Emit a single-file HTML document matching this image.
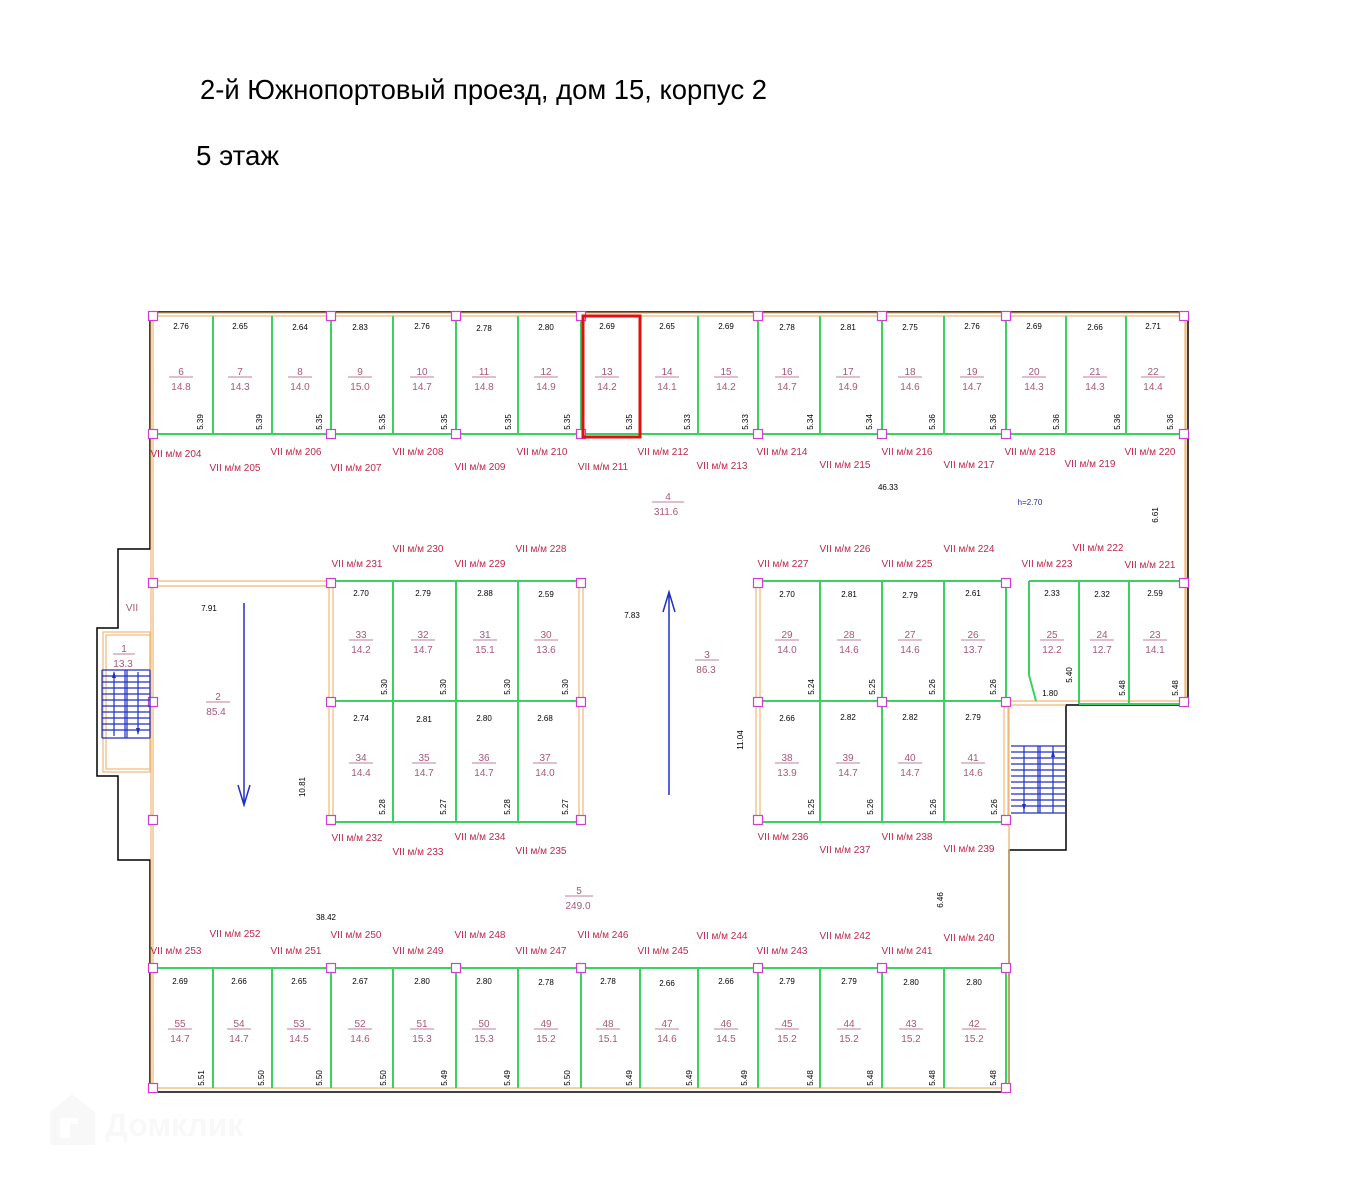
<!DOCTYPE html>
<html><head><meta charset="utf-8"><style>
html,body{margin:0;padding:0;background:#fff;}
svg{display:block}
text{font-family:"Liberation Sans",sans-serif}
.d{font-size:8px;fill:#000;text-anchor:middle}
.n{font-size:10px;fill:#a85878;text-anchor:middle}
.l{font-size:10px;fill:#c02848;text-anchor:middle}
.u{stroke:#a85878;stroke-width:0.8}
.g{stroke:#3cd060;stroke-width:2;fill:none}
.o{stroke:#f0b878;stroke-width:1.2;fill:none}
.k{stroke:#000;stroke-width:1.5;fill:none}
.p{fill:#fff;stroke:#d040d0;stroke-width:1.2}
.b{stroke:#2030c0;stroke-width:1.2;fill:none}
</style></head><body>
<svg width="1367" height="1179" viewBox="0 0 1367 1179" xmlns="http://www.w3.org/2000/svg">
<defs>
<g id="sq"><rect x="-4.5" y="-4.5" width="9" height="9" class="p"/></g>
</defs>
<text x="200" y="99" textLength="567" lengthAdjust="spacingAndGlyphs" style="font-size:28px;fill:#000">2-й Южнопортовый проезд, дом 15, корпус 2</text>
<text x="196" y="165" textLength="83" lengthAdjust="spacingAndGlyphs" style="font-size:28px;fill:#000">5 этаж</text>

<!-- watermark -->
<g opacity="0.05" fill="#888">
<path d="M50 1112 L72 1094 L95 1112 L95 1145 L50 1145 Z M60 1118 L60 1138 L70 1138 L70 1124 L78 1124 L78 1118 Z" fill-rule="evenodd"/>
<text x="105" y="1136" style="font-size:32px;font-weight:bold;fill:#888">Домклик</text>
</g>

<!-- black outline -->
<path class="k" d="M150 312 H1188 V705 H1066 V850 H1009 V1092 H150 V860 H118 V776 H97 V628 H118 V549 H150 Z"/>
<!-- orange inner walls -->
<path class="o" d="M153 316 H1185 V701 M153 316 V1088 H1006 M1009 826 V1090"/>
<path class="o" d="M151 313 H1186 M151 313 V1090 M1186 313 V703"/>
<!-- left stair box -->
<rect x="103" y="632" width="47" height="140" class="o"/>
<rect x="106" y="635" width="44" height="134" class="o"/>
<!-- corridor walls -->
<path class="o" d="M153 581 H331 M153 586 H331"/>
<path class="o" d="M329 583 V822 M333 583 V822 M579 583 V822 M583 583 V822"/>
<path class="o" d="M756 583 V822 M760 583 V822 M1004 703 V822 M1008 703 V826 M1006 701 H1188 M1006 705 H1066"/>
<path class="o" d="M1009 705 V850"/>

<!-- top row stalls green -->
<path class="g" d="M153 434 H1186 M213 316V434 M272 316V434 M331 316V434 M393 316V434 M456 316V434 M518 316V434 M581 316V434 M640 316V434 M698 316V434 M758 316V434 M820 316V434 M882 316V434 M944 316V434 M1006 316V434 M1066 316V434 M1126 316V434"/>
<!-- bottom row -->
<path class="g" d="M153 968 H1006 M213 968V1088 M272 968V1088 M331 968V1088 M393 968V1088 M456 968V1088 M518 968V1088 M581 968V1088 M640 968V1088 M698 968V1088 M758 968V1088 M820 968V1088 M882 968V1088 M944 968V1088 M1006 968V1088"/>
<!-- left block -->
<path class="g" d="M331 581 H581 M331 701 H581 M331 822 H581 M393 581V822 M456 581V822 M518 581V822"/>
<!-- right block -->
<path class="g" d="M758 581 H1006 M758 701 H1006 M758 822 H1006 M820 581V822 M882 581V822 M944 581V822 M1006 581V701"/>
<!-- small block -->
<path class="g" d="M1029 581 H1186 M1029 581 V675 L1036 701 M1079 581 V704 M1129 581 V704 M1079 704 H1186"/>

<!-- pink squares -->
<g>
<use href="#sq" x="153" y="316"/><use href="#sq" x="331" y="316"/><use href="#sq" x="456" y="316"/><use href="#sq" x="581" y="316"/><use href="#sq" x="758" y="316"/><use href="#sq" x="882" y="316"/><use href="#sq" x="1006" y="316"/><use href="#sq" x="1184" y="316"/>
<use href="#sq" x="153" y="434"/><use href="#sq" x="331" y="434"/><use href="#sq" x="456" y="434"/><use href="#sq" x="581" y="434"/><use href="#sq" x="758" y="434"/><use href="#sq" x="882" y="434"/><use href="#sq" x="1006" y="434"/><use href="#sq" x="1184" y="434"/>
<use href="#sq" x="153" y="583"/><use href="#sq" x="331" y="583"/><use href="#sq" x="581" y="583"/><use href="#sq" x="758" y="583"/><use href="#sq" x="1006" y="583"/><use href="#sq" x="1184" y="583"/>
<use href="#sq" x="153" y="702"/><use href="#sq" x="331" y="702"/><use href="#sq" x="581" y="702"/><use href="#sq" x="758" y="702"/><use href="#sq" x="882" y="702"/><use href="#sq" x="1006" y="702"/><use href="#sq" x="1184" y="702"/>
<use href="#sq" x="153" y="820"/><use href="#sq" x="331" y="820"/><use href="#sq" x="581" y="820"/><use href="#sq" x="758" y="820"/><use href="#sq" x="1006" y="820"/>
<use href="#sq" x="153" y="968"/><use href="#sq" x="331" y="968"/><use href="#sq" x="456" y="968"/><use href="#sq" x="581" y="968"/><use href="#sq" x="758" y="968"/><use href="#sq" x="882" y="968"/><use href="#sq" x="1006" y="968"/>
<use href="#sq" x="153" y="1088"/><use href="#sq" x="1006" y="1088"/>
</g>

<!-- red highlight -->
<rect x="583" y="316" width="57" height="121" fill="none" stroke="#e01010" stroke-width="3"/>

<!-- stairs -->
<g class="b">
<path d="M102 670 H150 M102 676 H150 M102 682 H150 M102 688 H150 M102 694 H150 M102 700 H150 M102 706 H150 M102 712 H150 M102 718 H150 M102 724 H150 M102 730 H150 M102 738 H150 M102 670 V738 M125 670 V738 M127 670 V738 M150 670 V738 M114 736 V672 M138 672 V734"/>
<path d="M1011 746 H1066 M1011 752 H1066 M1011 758 H1066 M1011 764 H1066 M1011 770 H1066 M1011 776 H1066 M1011 782 H1066 M1011 788 H1066 M1011 794 H1066 M1011 800 H1066 M1011 806 H1066 M1011 813 H1066 M1024 746 V813 M1038 746 V813 M1040 746 V813 M1053 746 V813 M1024 812 V760 M1053 750 V800"/>
<path d="M244 603 V805 M238 785 L244 805 L250 785" stroke-width="1.5"/>
<path d="M669 795 V592 M663 612 L669 592 L675 612" stroke-width="1.5"/>
</g>
<path d="M112 678 L114 671 L116 678 Z M136 728 L138 735 L140 728 Z M1022 804 L1024 811 L1026 804 Z M1051 757 L1053 750 L1055 757 Z" fill="#2030c0"/>

<!-- stall texts: top row -->
<g transform="translate(181,316)"><text class="d" y="13">2.76</text><text class="n" y="59">6</text><line class="u" x1="-12" x2="12" y1="61" y2="61"/><text class="n" y="74">14.8</text><text class="d" transform="translate(22,106) rotate(-90)">5.39</text></g>
<g transform="translate(240,316)"><text class="d" y="13">2.65</text><text class="n" y="59">7</text><line class="u" x1="-12" x2="12" y1="61" y2="61"/><text class="n" y="74">14.3</text><text class="d" transform="translate(22,106) rotate(-90)">5.39</text></g>
<g transform="translate(300,316)"><text class="d" y="14">2.64</text><text class="n" y="59">8</text><line class="u" x1="-12" x2="12" y1="61" y2="61"/><text class="n" y="74">14.0</text><text class="d" transform="translate(22,106) rotate(-90)">5.35</text></g>
<g transform="translate(360,316)"><text class="d" y="14">2.83</text><text class="n" y="59">9</text><line class="u" x1="-12" x2="12" y1="61" y2="61"/><text class="n" y="74">15.0</text><text class="d" transform="translate(25,106) rotate(-90)">5.35</text></g>
<g transform="translate(422,316)"><text class="d" y="13">2.76</text><text class="n" y="59">10</text><line class="u" x1="-12" x2="12" y1="61" y2="61"/><text class="n" y="74">14.7</text><text class="d" transform="translate(25,106) rotate(-90)">5.35</text></g>
<g transform="translate(484,316)"><text class="d" y="15">2.78</text><text class="n" y="59">11</text><line class="u" x1="-12" x2="12" y1="61" y2="61"/><text class="n" y="74">14.8</text><text class="d" transform="translate(27,106) rotate(-90)">5.35</text></g>
<g transform="translate(546,316)"><text class="d" y="14">2.80</text><text class="n" y="59">12</text><line class="u" x1="-12" x2="12" y1="61" y2="61"/><text class="n" y="74">14.9</text><text class="d" transform="translate(24,106) rotate(-90)">5.35</text></g>
<g transform="translate(607,316)"><text class="d" y="13">2.69</text><text class="n" y="59">13</text><line class="u" x1="-12" x2="12" y1="61" y2="61"/><text class="n" y="74">14.2</text><text class="d" transform="translate(25,106) rotate(-90)">5.35</text></g>
<g transform="translate(667,316)"><text class="d" y="13">2.65</text><text class="n" y="59">14</text><line class="u" x1="-12" x2="12" y1="61" y2="61"/><text class="n" y="74">14.1</text><text class="d" transform="translate(23,106) rotate(-90)">5.33</text></g>
<g transform="translate(726,316)"><text class="d" y="13">2.69</text><text class="n" y="59">15</text><line class="u" x1="-12" x2="12" y1="61" y2="61"/><text class="n" y="74">14.2</text><text class="d" transform="translate(22,106) rotate(-90)">5.33</text></g>
<g transform="translate(787,316)"><text class="d" y="14">2.78</text><text class="n" y="59">16</text><line class="u" x1="-12" x2="12" y1="61" y2="61"/><text class="n" y="74">14.7</text><text class="d" transform="translate(26,106) rotate(-90)">5.34</text></g>
<g transform="translate(848,316)"><text class="d" y="14">2.81</text><text class="n" y="59">17</text><line class="u" x1="-12" x2="12" y1="61" y2="61"/><text class="n" y="74">14.9</text><text class="d" transform="translate(24,106) rotate(-90)">5.34</text></g>
<g transform="translate(910,316)"><text class="d" y="14">2.75</text><text class="n" y="59">18</text><line class="u" x1="-12" x2="12" y1="61" y2="61"/><text class="n" y="74">14.6</text><text class="d" transform="translate(25,106) rotate(-90)">5.36</text></g>
<g transform="translate(972,316)"><text class="d" y="13">2.76</text><text class="n" y="59">19</text><line class="u" x1="-12" x2="12" y1="61" y2="61"/><text class="n" y="74">14.7</text><text class="d" transform="translate(24,106) rotate(-90)">5.36</text></g>
<g transform="translate(1034,316)"><text class="d" y="13">2.69</text><text class="n" y="59">20</text><line class="u" x1="-12" x2="12" y1="61" y2="61"/><text class="n" y="74">14.3</text><text class="d" transform="translate(25,106) rotate(-90)">5.36</text></g>
<g transform="translate(1095,316)"><text class="d" y="14">2.66</text><text class="n" y="59">21</text><line class="u" x1="-12" x2="12" y1="61" y2="61"/><text class="n" y="74">14.3</text><text class="d" transform="translate(25,106) rotate(-90)">5.36</text></g>
<g transform="translate(1153,316)"><text class="d" y="13">2.71</text><text class="n" y="59">22</text><line class="u" x1="-12" x2="12" y1="61" y2="61"/><text class="n" y="74">14.4</text><text class="d" transform="translate(20,106) rotate(-90)">5.36</text></g>

<!-- bottom row -->
<g transform="translate(180,968)"><text class="d" y="16">2.69</text><text class="n" y="59">55</text><line class="u" x1="-12" x2="12" y1="61" y2="61"/><text class="n" y="74">14.7</text><text class="d" transform="translate(24,110) rotate(-90)">5.51</text></g>
<g transform="translate(239,968)"><text class="d" y="16">2.66</text><text class="n" y="59">54</text><line class="u" x1="-12" x2="12" y1="61" y2="61"/><text class="n" y="74">14.7</text><text class="d" transform="translate(25,110) rotate(-90)">5.50</text></g>
<g transform="translate(299,968)"><text class="d" y="16">2.65</text><text class="n" y="59">53</text><line class="u" x1="-12" x2="12" y1="61" y2="61"/><text class="n" y="74">14.5</text><text class="d" transform="translate(23,110) rotate(-90)">5.50</text></g>
<g transform="translate(360,968)"><text class="d" y="16">2.67</text><text class="n" y="59">52</text><line class="u" x1="-12" x2="12" y1="61" y2="61"/><text class="n" y="74">14.6</text><text class="d" transform="translate(26,110) rotate(-90)">5.50</text></g>
<g transform="translate(422,968)"><text class="d" y="16">2.80</text><text class="n" y="59">51</text><line class="u" x1="-12" x2="12" y1="61" y2="61"/><text class="n" y="74">15.3</text><text class="d" transform="translate(25,110) rotate(-90)">5.49</text></g>
<g transform="translate(484,968)"><text class="d" y="16">2.80</text><text class="n" y="59">50</text><line class="u" x1="-12" x2="12" y1="61" y2="61"/><text class="n" y="74">15.3</text><text class="d" transform="translate(26,110) rotate(-90)">5.49</text></g>
<g transform="translate(546,968)"><text class="d" y="17">2.78</text><text class="n" y="59">49</text><line class="u" x1="-12" x2="12" y1="61" y2="61"/><text class="n" y="74">15.2</text><text class="d" transform="translate(24,110) rotate(-90)">5.50</text></g>
<g transform="translate(608,968)"><text class="d" y="16">2.78</text><text class="n" y="59">48</text><line class="u" x1="-12" x2="12" y1="61" y2="61"/><text class="n" y="74">15.1</text><text class="d" transform="translate(24,110) rotate(-90)">5.49</text></g>
<g transform="translate(667,968)"><text class="d" y="18">2.66</text><text class="n" y="59">47</text><line class="u" x1="-12" x2="12" y1="61" y2="61"/><text class="n" y="74">14.6</text><text class="d" transform="translate(25,110) rotate(-90)">5.49</text></g>
<g transform="translate(726,968)"><text class="d" y="16">2.66</text><text class="n" y="59">46</text><line class="u" x1="-12" x2="12" y1="61" y2="61"/><text class="n" y="74">14.5</text><text class="d" transform="translate(21,110) rotate(-90)">5.49</text></g>
<g transform="translate(787,968)"><text class="d" y="16">2.79</text><text class="n" y="59">45</text><line class="u" x1="-12" x2="12" y1="61" y2="61"/><text class="n" y="74">15.2</text><text class="d" transform="translate(26,110) rotate(-90)">5.48</text></g>
<g transform="translate(849,968)"><text class="d" y="16">2.79</text><text class="n" y="59">44</text><line class="u" x1="-12" x2="12" y1="61" y2="61"/><text class="n" y="74">15.2</text><text class="d" transform="translate(24,110) rotate(-90)">5.48</text></g>
<g transform="translate(911,968)"><text class="d" y="17">2.80</text><text class="n" y="59">43</text><line class="u" x1="-12" x2="12" y1="61" y2="61"/><text class="n" y="74">15.2</text><text class="d" transform="translate(24,110) rotate(-90)">5.48</text></g>
<g transform="translate(974,968)"><text class="d" y="17">2.80</text><text class="n" y="59">42</text><line class="u" x1="-12" x2="12" y1="61" y2="61"/><text class="n" y="74">15.2</text><text class="d" transform="translate(22,110) rotate(-90)">5.48</text></g>

<!-- left block -->
<g transform="translate(361,581)"><text class="d" y="15">2.70</text><text class="n" y="57">33</text><line class="u" x1="-12" x2="12" y1="59" y2="59"/><text class="n" y="72">14.2</text><text class="d" transform="translate(26,106) rotate(-90)">5.30</text></g>
<g transform="translate(423,581)"><text class="d" y="15">2.79</text><text class="n" y="57">32</text><line class="u" x1="-12" x2="12" y1="59" y2="59"/><text class="n" y="72">14.7</text><text class="d" transform="translate(23,106) rotate(-90)">5.30</text></g>
<g transform="translate(485,581)"><text class="d" y="15">2.88</text><text class="n" y="57">31</text><line class="u" x1="-12" x2="12" y1="59" y2="59"/><text class="n" y="72">15.1</text><text class="d" transform="translate(25,106) rotate(-90)">5.30</text></g>
<g transform="translate(546,581)"><text class="d" y="16">2.59</text><text class="n" y="57">30</text><line class="u" x1="-12" x2="12" y1="59" y2="59"/><text class="n" y="72">13.6</text><text class="d" transform="translate(22,106) rotate(-90)">5.30</text></g>
<g transform="translate(361,703)"><text class="d" y="18">2.74</text><text class="n" y="58">34</text><line class="u" x1="-12" x2="12" y1="60" y2="60"/><text class="n" y="73">14.4</text><text class="d" transform="translate(24,104) rotate(-90)">5.28</text></g>
<g transform="translate(424,703)"><text class="d" y="19">2.81</text><text class="n" y="58">35</text><line class="u" x1="-12" x2="12" y1="60" y2="60"/><text class="n" y="73">14.7</text><text class="d" transform="translate(22,104) rotate(-90)">5.27</text></g>
<g transform="translate(484,703)"><text class="d" y="18">2.80</text><text class="n" y="58">36</text><line class="u" x1="-12" x2="12" y1="60" y2="60"/><text class="n" y="73">14.7</text><text class="d" transform="translate(26,104) rotate(-90)">5.28</text></g>
<g transform="translate(545,703)"><text class="d" y="18">2.68</text><text class="n" y="58">37</text><line class="u" x1="-12" x2="12" y1="60" y2="60"/><text class="n" y="73">14.0</text><text class="d" transform="translate(23,104) rotate(-90)">5.27</text></g>

<!-- right block -->
<g transform="translate(787,581)"><text class="d" y="16">2.70</text><text class="n" y="57">29</text><line class="u" x1="-12" x2="12" y1="59" y2="59"/><text class="n" y="72">14.0</text><text class="d" transform="translate(27,106) rotate(-90)">5.24</text></g>
<g transform="translate(849,581)"><text class="d" y="16">2.81</text><text class="n" y="57">28</text><line class="u" x1="-12" x2="12" y1="59" y2="59"/><text class="n" y="72">14.6</text><text class="d" transform="translate(26,106) rotate(-90)">5.25</text></g>
<g transform="translate(910,581)"><text class="d" y="17">2.79</text><text class="n" y="57">27</text><line class="u" x1="-12" x2="12" y1="59" y2="59"/><text class="n" y="72">14.6</text><text class="d" transform="translate(25,106) rotate(-90)">5.26</text></g>
<g transform="translate(973,581)"><text class="d" y="15">2.61</text><text class="n" y="57">26</text><line class="u" x1="-12" x2="12" y1="59" y2="59"/><text class="n" y="72">13.7</text><text class="d" transform="translate(23,106) rotate(-90)">5.26</text></g>
<g transform="translate(787,703)"><text class="d" y="18">2.66</text><text class="n" y="58">38</text><line class="u" x1="-12" x2="12" y1="60" y2="60"/><text class="n" y="73">13.9</text><text class="d" transform="translate(27,104) rotate(-90)">5.25</text></g>
<g transform="translate(848,703)"><text class="d" y="17">2.82</text><text class="n" y="58">39</text><line class="u" x1="-12" x2="12" y1="60" y2="60"/><text class="n" y="73">14.7</text><text class="d" transform="translate(25,104) rotate(-90)">5.26</text></g>
<g transform="translate(910,703)"><text class="d" y="17">2.82</text><text class="n" y="58">40</text><line class="u" x1="-12" x2="12" y1="60" y2="60"/><text class="n" y="73">14.7</text><text class="d" transform="translate(26,104) rotate(-90)">5.26</text></g>
<g transform="translate(973,703)"><text class="d" y="17">2.79</text><text class="n" y="58">41</text><line class="u" x1="-12" x2="12" y1="60" y2="60"/><text class="n" y="73">14.6</text><text class="d" transform="translate(24,104) rotate(-90)">5.26</text></g>

<!-- small block -->
<g transform="translate(1052,581)"><text class="d" y="15">2.33</text><text class="n" y="57">25</text><line class="u" x1="-12" x2="12" y1="59" y2="59"/><text class="n" y="72">12.2</text><text class="d" transform="translate(20,94) rotate(-90)">5.40</text><text class="d" x="-2" y="115">1.80</text></g>
<g transform="translate(1102,581)"><text class="d" y="16">2.32</text><text class="n" y="57">24</text><line class="u" x1="-12" x2="12" y1="59" y2="59"/><text class="n" y="72">12.7</text><text class="d" transform="translate(23,107) rotate(-90)">5.48</text></g>
<g transform="translate(1155,581)"><text class="d" y="15">2.59</text><text class="n" y="57">23</text><line class="u" x1="-12" x2="12" y1="59" y2="59"/><text class="n" y="72">14.1</text><text class="d" transform="translate(23,107) rotate(-90)">5.48</text></g>

<!-- parking labels -->
<g class="l">
<text class="l" x="176" y="457">VII м/м 204</text><text class="l" x="296" y="455">VII м/м 206</text><text class="l" x="418" y="455">VII м/м 208</text><text class="l" x="542" y="455">VII м/м 210</text><text class="l" x="663" y="455">VII м/м 212</text><text class="l" x="782" y="455">VII м/м 214</text><text class="l" x="907" y="455">VII м/м 216</text><text class="l" x="1030" y="455">VII м/м 218</text><text class="l" x="1150" y="455">VII м/м 220</text>
<text class="l" x="235" y="471">VII м/м 205</text><text class="l" x="356" y="471">VII м/м 207</text><text class="l" x="480" y="470">VII м/м 209</text><text class="l" x="603" y="470">VII м/м 211</text><text class="l" x="722" y="469">VII м/м 213</text><text class="l" x="845" y="468">VII м/м 215</text><text class="l" x="969" y="468">VII м/м 217</text><text class="l" x="1090" y="467">VII м/м 219</text>
<text class="l" x="418" y="552">VII м/м 230</text><text class="l" x="541" y="552">VII м/м 228</text><text class="l" x="845" y="552">VII м/м 226</text><text class="l" x="969" y="552">VII м/м 224</text><text class="l" x="1098" y="551">VII м/м 222</text>
<text class="l" x="357" y="567">VII м/м 231</text><text class="l" x="480" y="567">VII м/м 229</text><text class="l" x="783" y="567">VII м/м 227</text><text class="l" x="907" y="567">VII м/м 225</text><text class="l" x="1047" y="567">VII м/м 223</text><text class="l" x="1150" y="568">VII м/м 221</text>
<text class="l" x="357" y="841">VII м/м 232</text><text class="l" x="480" y="840">VII м/м 234</text><text class="l" x="783" y="840">VII м/м 236</text><text class="l" x="907" y="840">VII м/м 238</text>
<text class="l" x="418" y="855">VII м/м 233</text><text class="l" x="541" y="854">VII м/м 235</text><text class="l" x="845" y="853">VII м/м 237</text><text class="l" x="969" y="852">VII м/м 239</text>
<text class="l" x="235" y="937">VII м/м 252</text><text class="l" x="356" y="938">VII м/м 250</text><text class="l" x="480" y="938">VII м/м 248</text><text class="l" x="603" y="938">VII м/м 246</text><text class="l" x="722" y="939">VII м/м 244</text><text class="l" x="845" y="939">VII м/м 242</text><text class="l" x="969" y="941">VII м/м 240</text>
<text class="l" x="176" y="954">VII м/м 253</text><text class="l" x="296" y="954">VII м/м 251</text><text class="l" x="418" y="954">VII м/м 249</text><text class="l" x="541" y="954">VII м/м 247</text><text class="l" x="663" y="954">VII м/м 245</text><text class="l" x="782" y="954">VII м/м 243</text><text class="l" x="907" y="954">VII м/м 241</text>
</g>

<!-- misc -->
<text class="n" x="668" y="500">4</text><line class="u" x1="652" x2="684" y1="502" y2="502"/><text class="n" x="666" y="515">311.6</text>
<text class="d" x="888" y="490">46.33</text>
<text class="d" x="1030" y="505" style="fill:#2030a0">h=2.70</text>
<text class="d" transform="translate(1158,515) rotate(-90)">6.61</text>
<text class="d" x="632" y="618">7.83</text>
<text class="n" x="707" y="658">3</text><line class="u" x1="695" x2="719" y1="660" y2="660"/><text class="n" x="706" y="673">86.3</text>
<text class="d" transform="translate(743,740) rotate(-90)">11.04</text>
<text class="d" x="209" y="611">7.91</text>
<text class="n" x="218" y="700">2</text><line class="u" x1="206" x2="230" y1="702" y2="702"/><text class="n" x="216" y="715">85.4</text>
<text class="d" transform="translate(305,787) rotate(-90)">10.81</text>
<text class="n" x="579" y="894">5</text><line class="u" x1="565" x2="593" y1="896" y2="896"/><text class="n" x="578" y="909">249.0</text>
<text class="d" x="326" y="920">38.42</text>
<text class="d" transform="translate(943,900) rotate(-90)">6.46</text>
<text class="n" x="132" y="611">VII</text>
<text class="n" x="124" y="652">1</text><line class="u" x1="113" x2="135" y1="654" y2="654"/><text class="n" x="123" y="667">13.3</text>
</svg>
</body></html>
